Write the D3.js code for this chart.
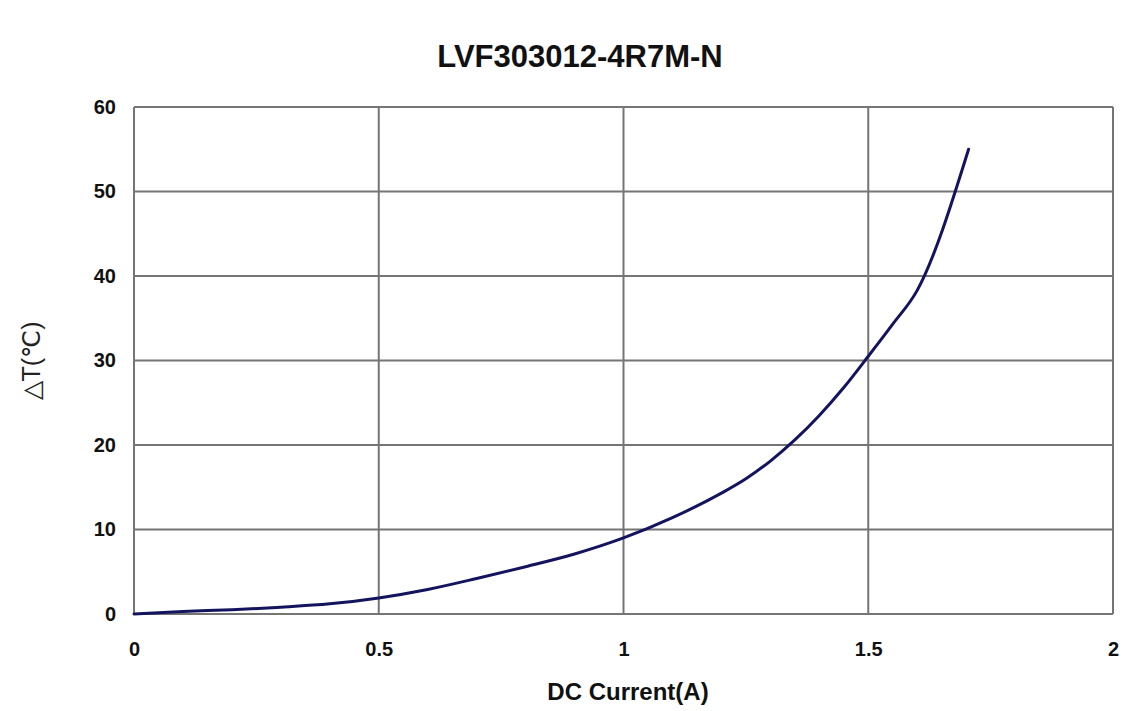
<!DOCTYPE html>
<html>
<head>
<meta charset="utf-8">
<script src="https://cdn.jsdelivr.net/npm/d3@7"></script>
<style>
  html, body { margin: 0; padding: 0; background: #fff; }
  svg { display: block; }
  text { font-family: "Liberation Sans", Arial, sans-serif; }
</style>
</head>
<body>
<svg id="chart" width="1144" height="711"></svg>
<script>
const titleText = "LVF303012-4R7M-N";
const xLabel = "DC Current(A)";
const yLabel = "\u25B3T(\u2103)";
const current = [0, 0.1, 0.2, 0.3, 0.4, 0.5, 0.6, 0.7, 0.8, 0.9, 1.0, 1.1, 1.2, 1.25, 1.3, 1.35, 1.4, 1.45, 1.5, 1.55, 1.6, 1.705];
const deltaT  = [0, 0.3, 0.5, 0.8, 1.2, 1.9, 2.9, 4.2, 5.6, 7.1, 9.0, 11.4, 14.3, 16.0, 18.1, 20.6, 23.5, 26.8, 30.5, 34.3, 38.3, 55.0];
const xTicks = [0, 0.5, 1, 1.5, 2];
const yTicks = [0, 10, 20, 30, 40, 50, 60];

const svg = d3.select("#chart");
const m = { left: 134, right: 1113, top: 107, bottom: 614 };

const x = d3.scaleLinear().domain([0, 2]).range([m.left, m.right]);
const y = d3.scaleLinear().domain([0, 60]).range([m.bottom, m.top]);

svg.append("rect").attr("width", 1144).attr("height", 711).attr("fill", "#fff");

// gridlines
const grid = svg.append("g").attr("stroke", "#757575").attr("stroke-width", 2);
grid.selectAll("line.v").data(xTicks).join("line")
  .attr("x1", d => x(d)).attr("x2", d => x(d))
  .attr("y1", m.top).attr("y2", m.bottom);
grid.selectAll("line.h").data(yTicks).join("line")
  .attr("y1", d => y(d)).attr("y2", d => y(d))
  .attr("x1", m.left).attr("x2", m.right);

// axes using d3 axis generators (labels only)
const xAxis = svg.append("g").attr("transform", `translate(0,${m.bottom})`)
  .call(d3.axisBottom(x).tickValues(xTicks).tickSize(0).tickPadding(28).tickFormat(d3.format("")));
const yAxis = svg.append("g").attr("transform", `translate(${m.left},0)`)
  .call(d3.axisLeft(y).tickValues(yTicks).tickSize(0).tickPadding(18).tickFormat(d3.format("")));
[xAxis, yAxis].forEach(a => {
  a.select(".domain").remove();
  a.selectAll("text").attr("font-size", 20).attr("font-weight", "bold")
    .attr("fill", "#111").attr("font-family", "'Liberation Sans', Arial, sans-serif");
});

// line
const pts = current.map((c, i) => [c, deltaT[i]]);
svg.append("path").datum(pts)
  .attr("fill", "none").attr("stroke", "#14145e").attr("stroke-width", 3)
  .attr("stroke-linejoin", "round").attr("stroke-linecap", "round")
  .attr("d", d3.line().x(d => x(d[0])).y(d => y(d[1])).curve(d3.curveMonotoneX));

// title
svg.append("text").attr("x", 580).attr("y", 67).attr("text-anchor", "middle")
  .attr("font-size", 31).attr("font-weight", "bold").attr("fill", "#111").text(titleText);

// x label
svg.append("text").attr("x", 628).attr("y", 700).attr("text-anchor", "middle")
  .attr("font-size", 24).attr("font-weight", "bold").attr("fill", "#111").text(xLabel);

// y label
svg.append("text").attr("transform", `translate(40,361) rotate(-90)`)
  .attr("text-anchor", "middle").attr("font-size", 25).attr("fill", "#222").text(yLabel);
</script>
</body>
</html>
